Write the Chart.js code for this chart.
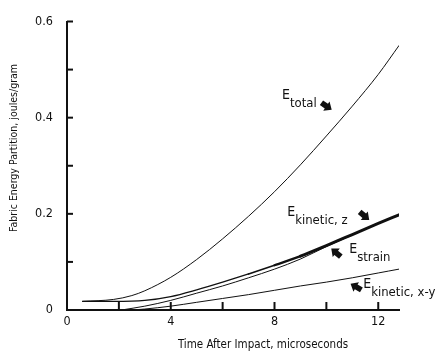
<!DOCTYPE html>
<html>
<head>
<meta charset="utf-8">
<script src="https://cdn.jsdelivr.net/npm/chart.js@4.4.1/dist/chart.umd.min.js"></script>
<style>
  html, body { margin: 0; padding: 0; background: #fff; }
  #wrap { width: 438px; height: 354px; }
</style>
</head>
<body>
<div id="wrap"><canvas id="myChart" width="438" height="354"></canvas></div>
<script>
// time after impact (microseconds) and energies (joules/gram)
const totalT   = [0.6, 1.8, 2.5, 3, 4, 5, 6, 7, 8, 9, 10, 11, 12, 12.8];
const totalE   = [0.018, 0.022, 0.03, 0.04, 0.068, 0.105, 0.148, 0.195, 0.246, 0.302, 0.362, 0.424, 0.49, 0.55];

const kinZT    = [0.6, 1.8, 3, 4, 5, 6, 7, 8, 9, 10, 11, 12, 12.8];
const kinZE    = [0.018, 0.018, 0.02, 0.028, 0.042, 0.058, 0.075, 0.093, 0.112, 0.134, 0.157, 0.18, 0.198];

const strainT  = [2.1, 3, 4, 5, 6, 7, 8, 9, 10, 11, 12, 12.8];
const strainE  = [0, 0.008, 0.02, 0.035, 0.05, 0.067, 0.085, 0.106, 0.132, 0.156, 0.18, 0.197];

const kinXYT   = [2.5, 3, 4, 5, 6, 7, 8, 9, 10, 11, 12, 12.8];
const kinXYE   = [0, 0.002, 0.008, 0.016, 0.024, 0.032, 0.041, 0.05, 0.058, 0.067, 0.077, 0.085];

const xTicks = [0, 2, 4, 6, 8, 10, 12];
const xLabels = [0, 4, 8, 12];
const yTicks = [0, 0.1, 0.2, 0.3, 0.4, 0.5, 0.6];
const yLabels = [0, 0.2, 0.4, 0.6];

// curve labels: subscript text, label anchor (t, E), arrow anchor (t, E), arrow angle (deg)
const labelSubs   = ['total', 'kinetic, z', 'strain', 'kinetic, x-y'];
const labelAt     = [[8.29, 0.438], [8.49, 0.196], [10.88, 0.119], [11.42, 0.046]];
const arrowAt     = [[10.0, 0.424], [11.46, 0.196], [10.38, 0.119], [11.15, 0.048]];
const arrowAngle  = [35, 40, -140, -150];

const FONT = "'DejaVu Sans Condensed', 'Liberation Sans Narrow', 'DejaVu Sans', sans-serif";
const INK = '#111';

function pts(t, e) { return t.map((v, i) => ({ x: v, y: e[i] })); }

const decor = {
  id: 'decor',
  afterDraw(chart) {
    const ctx = chart.ctx;
    const xs = chart.scales.x, ys = chart.scales.y;
    const x0 = xs.getPixelForValue(0), y0 = ys.getPixelForValue(0);
    ctx.save();
    ctx.strokeStyle = INK;
    ctx.lineWidth = 2;
    // inward ticks
    xTicks.forEach(v => {
      if (v === 0) return;
      const px = xs.getPixelForValue(v);
      ctx.beginPath(); ctx.moveTo(px, y0); ctx.lineTo(px, y0 - 8); ctx.stroke();
    });
    yTicks.forEach(v => {
      if (v === 0) return;
      const py = ys.getPixelForValue(v);
      ctx.beginPath(); ctx.moveTo(x0, py); ctx.lineTo(x0 + 6, py); ctx.stroke();
    });

    // curve labels
    ctx.fillStyle = INK;
    ctx.textBaseline = 'alphabetic';
    ctx.textAlign = 'left';
    labelSubs.forEach((sub, i) => {
      const lx = xs.getPixelForValue(labelAt[i][0]);
      const ly = ys.getPixelForValue(labelAt[i][1]);
      ctx.font = '14px ' + FONT;
      ctx.fillText('E', lx, ly);
      const w = ctx.measureText('E').width;
      ctx.font = '13px ' + FONT;
      ctx.fillText(sub, lx + w, ly + 8);

      const ax = xs.getPixelForValue(arrowAt[i][0]);
      const ay = ys.getPixelForValue(arrowAt[i][1]);
      ctx.save();
      ctx.translate(ax, ay);
      ctx.rotate(arrowAngle[i] * Math.PI / 180);
      ctx.beginPath();
      ctx.moveTo(-6, -2.8); ctx.lineTo(0, -2.8); ctx.lineTo(0, -5.5);
      ctx.lineTo(6.5, 0); ctx.lineTo(0, 5.5); ctx.lineTo(0, 2.8); ctx.lineTo(-6, 2.8);
      ctx.closePath();
      ctx.fill();
      ctx.restore();
    });

    // axis titles
    ctx.font = '11.5px ' + FONT;
    ctx.textAlign = 'center';
    ctx.textBaseline = 'middle';
    ctx.fillText('Time After Impact, microseconds', 263, 345);
    ctx.font = '10.5px ' + FONT;
    ctx.translate(14, 148);
    ctx.rotate(-Math.PI / 2);
    ctx.fillText('Fabric Energy Partition, joules/gram', 0, 0);
    ctx.restore();
  }
};

const lineStyle = { pointRadius: 0, borderColor: INK, borderWidth: 1, fill: false,
  cubicInterpolationMode: 'monotone', borderCapStyle: 'round', borderJoinStyle: 'round' };

// kinetic z line gets heavier toward its end, as in the original
function zWidth(c) {
  const t = c.p0.parsed.x;
  if (t >= 9) return 3;
  if (t >= 8) return 2.3;
  if (t >= 7) return 1.7;
  return 1.3;
}

const myChartElem = document.getElementById('myChart').getContext('2d');
const myChart = new Chart(myChartElem, {
  type: 'line',
  data: {
    datasets: [
      Object.assign({ label: 'E total', data: pts(totalT, totalE) }, lineStyle),
      Object.assign({ label: 'E strain', data: pts(strainT, strainE) }, lineStyle),
      Object.assign({ label: 'E kinetic, z', data: pts(kinZT, kinZE), segment: { borderWidth: zWidth } }, lineStyle),
      Object.assign({ label: 'E kinetic, x-y', data: pts(kinXYT, kinXYE) }, lineStyle)
    ]
  },
  options: {
    responsive: false,
    animation: false,
    layout: { padding: { top: 13, right: 39, left: 0, bottom: 0 } },
    plugins: { legend: { display: false }, tooltip: { enabled: false } },
    scales: {
      x: {
        type: 'linear', min: 0, max: 12.8,
        afterFit: s => { s.height = 44; },
        afterBuildTicks: s => { s.ticks = xTicks.map(v => ({ value: v })); },
        grid: { display: false, drawTicks: false },
        border: { display: true, color: INK, width: 2 },
        ticks: {
          padding: 4, color: INK, maxRotation: 0, autoSkip: false,
          font: { family: FONT, size: 12.5 },
          callback: v => xLabels.includes(v) ? String(v) : ''
        }
      },
      y: {
        type: 'linear', min: 0, max: 0.6,
        afterFit: s => { s.width = 67; },
        afterBuildTicks: s => { s.ticks = yTicks.map(v => ({ value: v })); },
        grid: { display: false, drawTicks: false },
        border: { display: true, color: INK, width: 2 },
        ticks: {
          padding: 14, color: INK, autoSkip: false,
          font: { family: FONT, size: 12.5 },
          callback: v => {
            const r = Math.round(v * 10) / 10;
            return yLabels.includes(r) ? (r === 0 ? '0' : r.toFixed(1)) : '';
          }
        }
      }
    }
  },
  plugins: [decor]
});
</script>
</body>
</html>
